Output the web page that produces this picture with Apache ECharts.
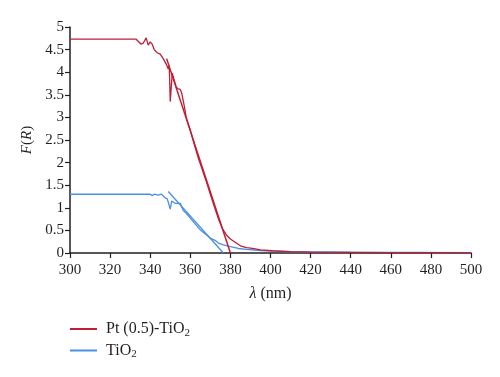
<!DOCTYPE html>
<html>
<head>
<meta charset="utf-8">
<script src="https://cdn.jsdelivr.net/npm/echarts@6/dist/echarts.min.js"></script>
<style>
    html, body { margin: 0; padding: 0; background: #fff; }
    #chart { width: 500px; height: 377px; }
</style>
</head>
<body>
<div id="chart"></div>
<script>
// Pt (0.5)-TiO2 measured curve
var ptWave = [300, 333, 335.5, 336.5, 338, 339, 340, 341, 342, 343.5, 345, 346.5, 348, 349, 349.5, 350, 351, 352, 353, 354, 355, 355.7, 357, 358, 360, 362, 364, 366, 368, 370, 372, 374, 376, 378, 380, 382, 385, 388, 391, 395, 401, 410, 420, 440, 460, 480, 500];
var ptFR = [4.73, 4.73, 4.62, 4.64, 4.76, 4.60, 4.67, 4.62, 4.50, 4.43, 4.40, 4.30, 4.18, 4.07, 4.15, 3.35, 3.98, 3.82, 3.67, 3.63, 3.62, 3.54, 3.25, 2.99, 2.72, 2.40, 2.10, 1.84, 1.58, 1.30, 1.02, 0.76, 0.54, 0.40, 0.31, 0.25, 0.16, 0.12, 0.10, 0.07, 0.05, 0.03, 0.02, 0.015, 0.01, 0.01, 0.01];
// TiO2 measured curve
var tiWave = [300, 340, 341, 342, 344, 345.7, 347.4, 348.5, 350, 350.7, 352.4, 355, 356.5, 358, 360, 362.5, 365, 367.5, 370, 372.3, 374, 376.5, 380, 384, 388, 395, 400, 410, 440, 470, 500];
var tiFR = [1.30, 1.30, 1.27, 1.30, 1.28, 1.30, 1.22, 1.20, 0.97, 1.15, 1.10, 1.10, 0.94, 0.88, 0.77, 0.64, 0.51, 0.42, 0.33, 0.28, 0.22, 0.18, 0.14, 0.10, 0.08, 0.055, 0.04, 0.03, 0.02, 0.015, 0.01];
// tangent (band-gap) lines
var ptFitWave = [348.2, 380];
var ptFitFR = [4.30, 0];
var tiFitWave = [349, 376.5];
var tiFitFR = [1.36, 0];

var xTicks = { min: 300, max: 500, step: 20 };
var yTicks = { min: 0, max: 5, step: 0.5 };

var serif = "'Liberation Serif', 'DejaVu Serif', serif";
var red = "#bd1f36";
var blue = "#4a8fe6";

function pairs(xs, ys) {
    var out = [];
    for (var i = 0; i < xs.length; i++) {
        out.push([xs[i], ys[i]]);
    }
    return out;
}

var chart = echarts.init(document.getElementById("chart"));
var option = {
    animation: false,
    grid: { left: 70, right: 29, top: 27, bottom: 124 },
    legend: {
        data: ["Pt (0.5)-TiO2", "TiO2"],
        orient: "vertical",
        left: 70,
        top: 321,
        padding: 0,
        icon: "rect",
        itemWidth: 27,
        itemHeight: 2,
        itemGap: 4,
        formatter: function (name) {
            return name === "TiO2" ? "{t|TiO}{s|2}" : "{t|Pt (0.5)-TiO}{s|2}";
        },
        textStyle: {
            color: "#231f20",
            fontFamily: serif,
            rich: {
                t: { fontSize: 16, fontFamily: serif, color: "#231f20", lineHeight: 17, padding: [0, 0, 0, 4] },
                s: { fontSize: 11, fontFamily: serif, color: "#231f20", padding: [8, 0, 0, 0] }
            }
        }
    },
    xAxis: {
        type: "value",
        min: xTicks.min,
        max: xTicks.max,
        interval: xTicks.step,
        name: "{i|λ} (nm)",
        nameLocation: "middle",
        nameGap: 33,
        nameTextStyle: {
            fontFamily: serif, fontSize: 16, color: "#231f20",
            rich: { i: { fontFamily: serif, fontSize: 16, fontStyle: "italic", color: "#231f20" } }
        },
        axisLine: { lineStyle: { color: "#231f20", width: 1.5 } },
        axisTick: { length: 5, lineStyle: { color: "#231f20", width: 1.2 } },
        axisLabel: { fontFamily: serif, fontSize: 15, color: "#231f20", margin: 10 },
        splitLine: { show: false }
    },
    yAxis: {
        type: "value",
        min: yTicks.min,
        max: yTicks.max,
        interval: yTicks.step,
        name: "{i|F}({i|R})",
        nameLocation: "middle",
        nameGap: 35,
        nameTextStyle: {
            fontFamily: serif, fontSize: 15, color: "#231f20",
            rich: { i: { fontFamily: serif, fontSize: 15, fontStyle: "italic", color: "#231f20" } }
        },
        axisLine: { show: true, lineStyle: { color: "#231f20", width: 1.5 } },
        axisTick: { show: true, length: 5, lineStyle: { color: "#231f20", width: 1.2 } },
        axisLabel: { fontFamily: serif, fontSize: 15, color: "#231f20", margin: 6 },
        splitLine: { show: false }
    },
    series: [
        { name: "Pt (0.5)-TiO2", type: "line", symbol: "none", data: pairs(ptWave, ptFR), lineStyle: { color: red, width: 1.3 }, itemStyle: { color: red }, z: 3 },
        { name: "TiO2", type: "line", symbol: "none", data: pairs(tiWave, tiFR), lineStyle: { color: blue, width: 1.3 }, itemStyle: { color: blue }, z: 2 },
        { name: "ptFit", type: "line", symbol: "none", data: pairs(ptFitWave, ptFitFR), lineStyle: { color: red, width: 1.5 }, z: 3 },
        { name: "tiFit", type: "line", symbol: "none", data: pairs(tiFitWave, tiFitFR), lineStyle: { color: blue, width: 1.3 }, z: 2 }
    ]
};
chart.setOption(option);
</script>
</body>
</html>
